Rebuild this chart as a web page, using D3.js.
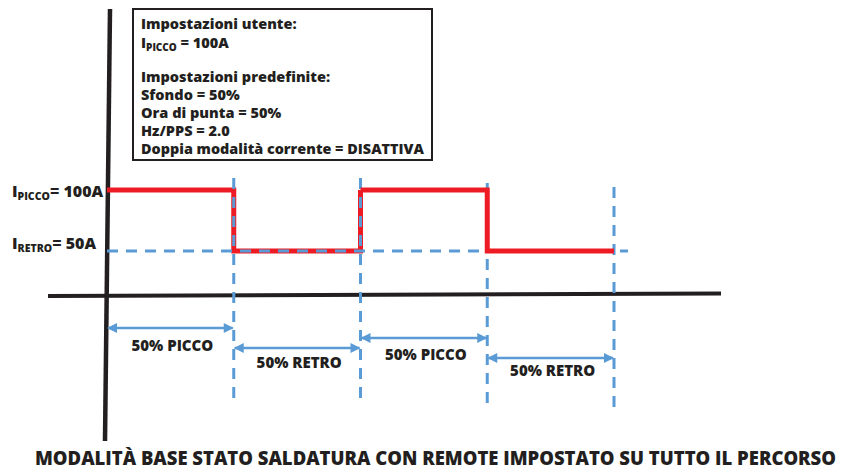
<!DOCTYPE html>
<html>
<head>
<meta charset="utf-8">
<script src="https://cdn.jsdelivr.net/npm/d3@7"></script>
<style>
  html, body { margin: 0; padding: 0; background: #ffffff; }
  svg { display: block; }
  text { font-family: "Open Sans", "Noto Sans", sans-serif; font-weight: 800; fill: #231f20; }
</style>
</head>
<body>
<div id="chart"></div>
<script>
// ---- data ----
const phaseLabels = ["50% PICCO", "50% RETRO", "50% PICCO", "50% RETRO"];
const phaseCurrent = [100, 50, 100, 50];          // A, one value per half-period
const phaseBounds = [0, 1, 2, 3, 4];              // time, in half-periods
const peakCurrent = 100;
const backCurrent = 50;
const settingsUser = ["Impostazioni utente:"];
const settingsDefault = [
  "Impostazioni predefinite:",
  "Sfondo = 50%",
  "Ora di punta = 50%",
  "Hz/PPS = 2.0",
  "Doppia modalità corrente = DISATTIVA"
];
const title = "MODALITÀ BASE STATO SALDATURA CON REMOTE IMPOSTATO SU TUTTO IL PERCORSO";

// ---- layout ----
const W = 847, H = 471;
const RED = "#ed1c24", BLUE = "#5b9bd5", INK = "#231f20";

const svg = d3.select("#chart").append("svg")
  .attr("width", W).attr("height", H);

const x = d3.scaleLinear().domain([0, 4]).range([107, 614]);
const y = d3.scaleLinear().domain([50, 100]).range([251, 190]);

// arrowheads
const defs = svg.append("defs");
["start", "end"].forEach(k => {
  defs.append("marker")
    .attr("id", "arr-" + k)
    .attr("viewBox", "0 0 10 10")
    .attr("refX", 9).attr("refY", 5)
    .attr("markerWidth", 4.8).attr("markerHeight", 4)
    .attr("markerUnits", "strokeWidth")
    .attr("orient", "auto-start-reverse")
    .append("path")
    .attr("d", "M0,0 L10,5 L0,10 Z")
    .attr("fill", BLUE);
});

// ---- axes (hand-drawn, slightly skewed) ----
svg.append("line")
  .attr("x1", 48).attr("y1", 296).attr("x2", 721).attr("y2", 293.5)
  .attr("stroke", INK).attr("stroke-width", 4);
svg.append("line")
  .attr("x1", 110).attr("y1", 9).attr("x2", 105).attr("y2", 441)
  .attr("stroke", INK).attr("stroke-width", 4.5);

// ---- current waveform ----
function stepPath(idx) {
  const pts = [];
  idx.forEach(i => {
    pts.push([x(phaseBounds[i]), y(phaseCurrent[i])]);
    pts.push([x(phaseBounds[i + 1]), y(phaseCurrent[i])]);
  });
  return d3.line()(pts);
}
// first period sits under the reference dashes
svg.append("path")
  .attr("d", stepPath([0, 1]) + "L" + x(phaseBounds[2]) + "," + y(phaseCurrent[2]))
  .attr("fill", "none").attr("stroke", RED).attr("stroke-width", 5)
  .attr("stroke-linejoin", "miter");

// ---- reference dashes ----
const dash = "11,8";
const g = svg.append("g").attr("stroke", BLUE).attr("stroke-width", 3)
  .attr("stroke-dasharray", dash).attr("fill", "none");
g.append("line")
  .attr("x1", x(0)).attr("x2", 628)
  .attr("y1", y(backCurrent)).attr("y2", y(backCurrent));
const vTops = [178, 178, 183, 187];
const vBots = [403, 403, 408, 413];
phaseBounds.slice(1).forEach((b, i) => {
  g.append("line")
    .attr("x1", x(b)).attr("x2", x(b))
    .attr("y1", vTops[i]).attr("y2", vBots[i]);
});

// second period drawn over the dashes
svg.append("path")
  .attr("d", stepPath([2, 3]))
  .attr("fill", "none").attr("stroke", RED).attr("stroke-width", 5)
  .attr("stroke-linejoin", "miter");

// ---- duration arrows + labels ----
const arrowY = [328, 348, 338, 358];
const labelY = [351, 368, 360, 376];
phaseLabels.forEach((lab, i) => {
  svg.append("line")
    .attr("x1", x(phaseBounds[i]) + 1).attr("x2", x(phaseBounds[i + 1]) - 1)
    .attr("y1", arrowY[i]).attr("y2", arrowY[i])
    .attr("stroke", BLUE).attr("stroke-width", 2.5)
    .attr("marker-start", "url(#arr-start)")
    .attr("marker-end", "url(#arr-end)");
  svg.append("text")
    .attr("x", (x(phaseBounds[i]) + x(phaseBounds[i + 1])) / 2 + 2)
    .attr("y", labelY[i])
    .attr("text-anchor", "middle")
    .attr("font-size", 15)
    .text(lab);
});

// ---- level labels ----
function levelLabel(sub, val, yy) {
  const t = svg.append("text").attr("x", 12).attr("y", yy).attr("font-size", 16);
  t.append("tspan").text("I");
  t.append("tspan").attr("font-size", 10.5).attr("dy", 3).text(sub);
  t.append("tspan").attr("dy", -3).text("= " + val + "A");
}
levelLabel("PICCO", peakCurrent, y(peakCurrent) + 7);
levelLabel("RETRO", backCurrent, y(backCurrent) - 2);

// ---- settings box ----
svg.append("rect")
  .attr("x", 133).attr("y", 9).attr("width", 299).attr("height", 151)
  .attr("fill", "#fff").attr("stroke", INK).attr("stroke-width", 2);
const bx = 141, fs = 14.5;
svg.append("text").attr("x", bx).attr("y", 29).attr("font-size", fs).text(settingsUser[0]);
const ip = svg.append("text").attr("x", bx).attr("y", 48).attr("font-size", fs);
ip.append("tspan").text("I");
ip.append("tspan").attr("font-size", 10).attr("dy", 3).text("PICCO");
ip.append("tspan").attr("dy", -3).text(" = " + peakCurrent + "A");
settingsDefault.forEach((s, i) => {
  const t = svg.append("text").attr("x", bx).attr("y", 82 + i * 18).attr("font-size", fs).text(s);
  if (i === settingsDefault.length - 1) {
    t.attr("textLength", 283).attr("lengthAdjust", "spacingAndGlyphs");
  }
});

// ---- title ----
svg.append("text")
  .attr("x", 35).attr("y", 465)
  .attr("font-size", 18.5)
  .attr("textLength", 801).attr("lengthAdjust", "spacingAndGlyphs")
  .text(title);
</script>
</body>
</html>
